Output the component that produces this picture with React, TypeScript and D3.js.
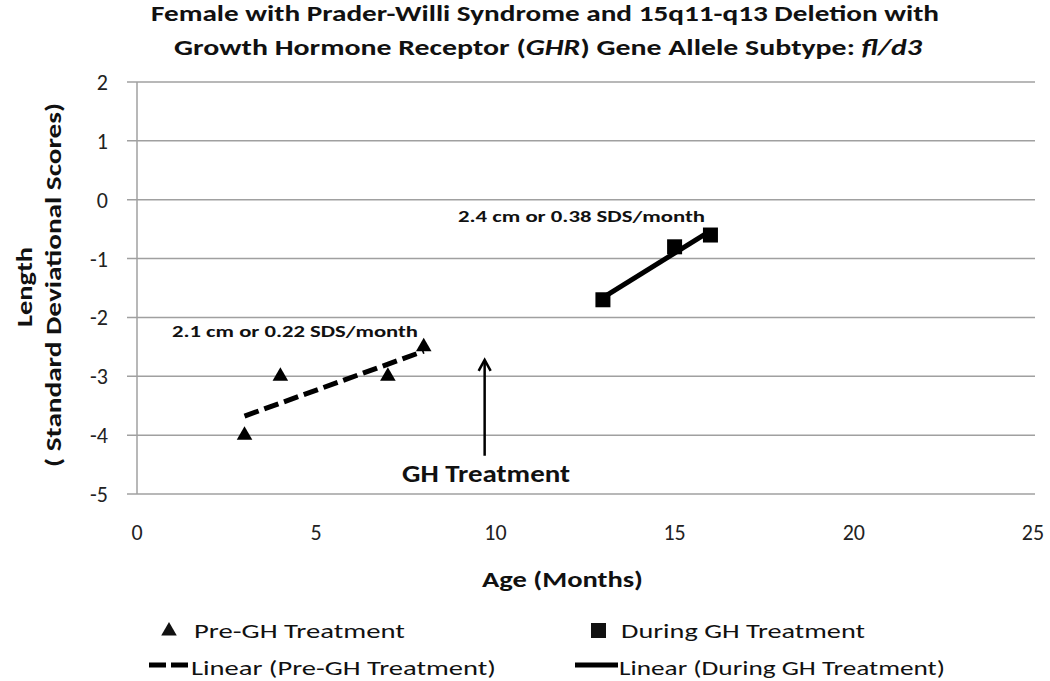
import React, { useEffect, useRef } from 'react';
import * as d3 from 'd3';

// data
const preAge = [3, 4, 7, 8];
const preSds = [-4, -3, -3, -2.5];
const duringAge = [13, 15, 16];
const duringSds = [-1.7, -0.8, -0.6];
const xTicks = [0, 5, 10, 15, 20, 25];
const yTicks = [2, 1, 0, -1, -2, -3, -4, -5];
const titleLine1 = 'Female with Prader-Willi Syndrome and 15q11-q13 Deletion with';
const preLabel = '2.1 cm or 0.22 SDS/month';
const duringLabel = '2.4 cm or 0.38 SDS/month';
const arrowAt = { age: 9.7, from: -4.35, to: -2.72 };

const FONT = "Carlito, 'Liberation Sans Narrow', 'Open Sans', sans-serif";

// least-squares fit, like the spreadsheet trendline
const fit = (xs: number[], ys: number[]) => {
    const mx = d3.mean(xs) as number;
    const my = d3.mean(ys) as number;
    let sxy = 0, sxx = 0;
    xs.forEach((x, i) => {
        sxy += (x - mx) * (ys[i] - my);
        sxx += (x - mx) * (x - mx);
    });
    const slope = sxy / sxx;
    return (x: number) => my + slope * (x - mx);
};

const App = () => {
    const chartRef = useRef<SVGSVGElement>(null);

    useEffect(() => {
        const svg = d3.select(chartRef.current);
        svg.selectAll('*').remove();

        const x = d3.scaleLinear().domain([0, 25]).range([137, 1033]);
        const y = d3.scaleLinear().domain([-5, 2]).range([494, 82]);

        // Title
        const title = svg.append('g').attr('font-family', FONT).attr('font-weight', 'bold')
            .attr('font-size', 23).attr('fill', '#111');
        title.append('text')
            .attr('x', 151).attr('y', 21)
            .attr('textLength', 788).attr('lengthAdjust', 'spacingAndGlyphs')
            .text(titleLine1);
        const t2 = title.append('text')
            .attr('x', 174).attr('y', 55)
            .attr('textLength', 748).attr('lengthAdjust', 'spacingAndGlyphs');
        t2.append('tspan').text('Growth Hormone Receptor (');
        t2.append('tspan').attr('font-style', 'italic').text('GHR');
        t2.append('tspan').text(') Gene Allele Subtype:  ');
        t2.append('tspan').attr('font-style', 'italic').text('fl/d3');

        // Grid lines
        svg.append('g').selectAll('line')
            .data(yTicks)
            .enter()
            .append('line')
            .attr('x1', 127).attr('x2', 1035)
            .attr('y1', d => y(d)).attr('y2', d => y(d))
            .attr('stroke', '#a0a0a0').attr('stroke-width', 1.5);
        svg.append('line')
            .attr('x1', x(0)).attr('x2', x(0))
            .attr('y1', y(2)).attr('y2', y(-5))
            .attr('stroke', '#a0a0a0').attr('stroke-width', 1.5);

        // Tick labels
        svg.append('g').selectAll('text')
            .data(yTicks)
            .enter()
            .append('text')
            .attr('x', 108).attr('y', d => y(d) + 8)
            .attr('text-anchor', 'end')
            .attr('font-family', FONT).attr('font-size', 22).attr('fill', '#222')
            .text(d => d);
        svg.append('g').selectAll('text')
            .data(xTicks)
            .enter()
            .append('text')
            .attr('x', d => x(d)).attr('y', 540)
            .attr('text-anchor', 'middle')
            .attr('font-family', FONT).attr('font-size', 22).attr('fill', '#222')
            .text(d => d);

        // Axis titles
        svg.append('text')
            .attr('x', 482).attr('y', 587)
            .attr('font-family', FONT).attr('font-size', 23).attr('font-weight', 'bold').attr('fill', '#111')
            .attr('textLength', 161).attr('lengthAdjust', 'spacingAndGlyphs')
            .text('Age (Months)');
        const yt = svg.append('g')
            .attr('transform', 'translate(0, 285) rotate(-90)')
            .attr('font-family', FONT).attr('font-size', 22).attr('font-weight', 'bold').attr('fill', '#111');
        yt.append('text').attr('x', -42).attr('y', 32)
            .attr('textLength', 80).attr('lengthAdjust', 'spacingAndGlyphs').text('Length');
        yt.append('text').attr('x', -182).attr('y', 61)
            .attr('textLength', 364).attr('lengthAdjust', 'spacingAndGlyphs').text('( Standard Deviational Scores)');

        // Trend lines
        const preFit = fit(preAge, preSds);
        const duringFit = fit(duringAge, duringSds);
        const line = d3.line<number>().x(d => x(d));
        svg.append('path')
            .attr('d', line.y(d => y(preFit(d)))([d3.min(preAge) as number, d3.max(preAge) as number]))
            .attr('fill', 'none').attr('stroke', '#000').attr('stroke-width', 5)
            .attr('stroke-dasharray', '15,6');
        svg.append('path')
            .attr('d', line.y(d => y(duringFit(d)))([d3.min(duringAge) as number, d3.max(duringAge) as number]))
            .attr('fill', 'none').attr('stroke', '#000').attr('stroke-width', 5);

        // Markers
        const tri = d3.symbol().type(d3.symbolTriangle).size(105);
        svg.append('g').selectAll('path')
            .data(preAge)
            .enter()
            .append('path')
            .attr('d', tri)
            .attr('transform', (d, i) => `translate(${x(d)}, ${y(preSds[i])})`)
            .attr('fill', '#000');
        svg.append('g').selectAll('rect')
            .data(duringAge)
            .enter()
            .append('rect')
            .attr('x', d => x(d) - 7.5).attr('y', (d, i) => y(duringSds[i]) - 7.5)
            .attr('width', 15).attr('height', 15)
            .attr('fill', '#000');

        // Annotations
        svg.append('text')
            .attr('x', 172).attr('y', 337)
            .attr('font-family', FONT).attr('font-size', 16).attr('font-weight', 'bold').attr('fill', '#111')
            .attr('textLength', 246).attr('lengthAdjust', 'spacingAndGlyphs')
            .text(preLabel);
        svg.append('text')
            .attr('x', 458).attr('y', 222)
            .attr('font-family', FONT).attr('font-size', 16).attr('font-weight', 'bold').attr('fill', '#111')
            .attr('textLength', 247).attr('lengthAdjust', 'spacingAndGlyphs')
            .text(duringLabel);

        // GH treatment arrow
        svg.append('line')
            .attr('x1', x(arrowAt.age)).attr('x2', x(arrowAt.age))
            .attr('y1', y(arrowAt.from)).attr('y2', y(arrowAt.to) + 2)
            .attr('stroke', '#000').attr('stroke-width', 2.5);
        svg.append('path')
            .attr('d', `M${x(arrowAt.age) - 6},${y(arrowAt.to) + 11} L${x(arrowAt.age)},${y(arrowAt.to)} L${x(arrowAt.age) + 6},${y(arrowAt.to) + 11}`)
            .attr('fill', 'none').attr('stroke', '#000').attr('stroke-width', 2.5);
        svg.append('text')
            .attr('x', 402).attr('y', 482)
            .attr('font-family', FONT).attr('font-size', 25).attr('font-weight', 'bold').attr('fill', '#111')
            .attr('textLength', 168).attr('lengthAdjust', 'spacingAndGlyphs')
            .text('GH Treatment');

        // Legend
        const leg = svg.append('g').attr('font-family', FONT).attr('font-size', 21).attr('fill', '#111');
        leg.append('path').attr('d', d3.symbol().type(d3.symbolTriangle).size(105)).attr('transform', 'translate(169, 631)');
        leg.append('text').attr('x', 194).attr('y', 638).attr('textLength', 211).attr('lengthAdjust', 'spacingAndGlyphs').text('Pre-GH Treatment');
        leg.append('rect').attr('x', 591).attr('y', 623).attr('width', 15).attr('height', 15);
        leg.append('text').attr('x', 621).attr('y', 638).attr('textLength', 244).attr('lengthAdjust', 'spacingAndGlyphs').text('During GH Treatment');
        leg.append('line').attr('x1', 149).attr('x2', 188).attr('y1', 665).attr('y2', 665)
            .attr('stroke', '#000').attr('stroke-width', 5).attr('stroke-dasharray', '17,5');
        leg.append('text').attr('x', 191).attr('y', 675).attr('textLength', 305).attr('lengthAdjust', 'spacingAndGlyphs').text('Linear (Pre-GH Treatment)');
        leg.append('line').attr('x1', 575).attr('x2', 618).attr('y1', 665).attr('y2', 665)
            .attr('stroke', '#000').attr('stroke-width', 5);
        leg.append('text').attr('x', 619).attr('y', 675).attr('textLength', 326).attr('lengthAdjust', 'spacingAndGlyphs').text('Linear (During GH Treatment)');
    }, []);

    return (
        <svg ref={chartRef} width={1050} height={681}
            style={{ position: 'absolute', left: 0, top: 0, background: '#fff' }} />
    );
};

export default App;
